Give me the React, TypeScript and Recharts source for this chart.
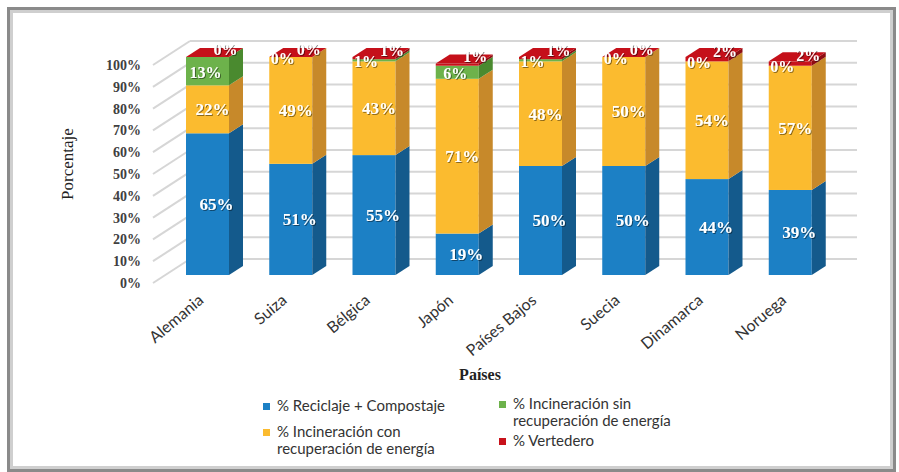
import React from 'react';
import { BarChart, Bar, XAxis, YAxis, CartesianGrid, LabelList, Legend } from 'recharts';

const countries = ['Alemania', 'Suiza', 'Bélgica', 'Japón', 'Países Bajos', 'Suecia', 'Dinamarca', 'Noruega'];
const reciclaje = [65, 51, 55, 19, 50, 50, 44, 39];
const incConRec = [22, 49, 43, 71, 48, 50, 54, 57];
const incSinRec = [13, 0, 1, 6, 1, 0, 0, 0];
const vertedero = [0, 0, 1, 1, 1, 0, 2, 2];
const yTicks = [0, 10, 20, 30, 40, 50, 60, 70, 80, 90, 100];
const seriesNames = [
  '% Reciclaje + Compostaje',
  '% Incineración con recuperación de energía',
  '% Incineración sin recuperación de energía',
  '% Vertedero',
];
const legendLines = [
  ['% Reciclaje + Compostaje'],
  ['% Incineración con', 'recuperación de energía'],
  ['% Incineración sin', 'recuperación de energía'],
  ['% Vertedero'],
];

const data = countries.map((c, i) => ({
  pais: c,
  rec: reciclaje[i],
  con: incConRec[i],
  sin: incSinRec[i],
  ver: vertedero[i],
}));

const COLORS = {
  rec: { front: '#1c80c5', side: '#145a8c' },
  con: { front: '#fbbb2f', side: '#c7892a' },
  sin: { front: '#6db24b', side: '#4a8a2f' },
  ver: { front: '#c8121b', side: '#8e0d12', top: '#c5101a' },
};

const DX = 14;
const DY = 9;

function make3D(front: string, side: string, top?: string) {
  return (p: any) => {
    const { x, y, width: w } = p;
    if (x == null || y == null) return null;
    const h = Math.max(p.height || 0, 0);
    return (
      <g>
        <rect x={x} y={y} width={w} height={h} fill={front} />
        <polygon
          points={`${x + w},${y} ${x + w + DX},${y - DY} ${x + w + DX},${y + h - DY} ${x + w},${y + h}`}
          fill={side}
        />
        {top ? (
          <polygon points={`${x},${y} ${x + DX},${y - DY} ${x + w + DX},${y - DY} ${x + w},${y}`} fill={top} />
        ) : null}
      </g>
    );
  };
}

function makeLabel(dxFn: (v: number) => number, dy: number, size = 17) {
  return (p: any) => {
    const { x, y, width, height, value } = p;
    if (x == null) return null;
    const cx = x + width / 2 + dxFn(value);
    const cy = y + (height || 0) / 2 + dy;
    return (
      <text
        x={cx}
        y={cy}
        dy="0.35em"
        textAnchor="middle"
        fill="#ffffff"
        fontFamily="'Liberation Serif', 'DejaVu Serif', serif"
        fontWeight="bold"
        fontSize={size}
        filter="url(#txtShadow)"
      >
        {`${value}%`}
      </text>
    );
  };
}

const YTick = (p: any) => {
  const { x, y, payload } = p;
  return (
    <text
      x={x}
      y={y + 8}
      dy="0.35em"
      textAnchor="end"
      fill="#404040"
      fontFamily="'Liberation Serif', serif"
      fontWeight="bold"
      fontSize={14}
    >
      {`${payload.value}%`}
    </text>
  );
};

const XTick = (p: any) => {
  const { x, y, payload } = p;
  const tx = x - 3;
  const ty = y + 27;
  return (
    <text
      x={tx}
      y={ty}
      textAnchor="end"
      transform={`rotate(-40 ${tx} ${ty})`}
      fill="#333333"
      fontFamily="Lato, 'Open Sans', sans-serif"
      fontSize={16}
    >
      {payload.value}
    </text>
  );
};

const gridLine = (p: any) => {
  const { x1, x2, y1, index } = p;
  return (
    <g key={`gl-${index}`}>
      <line x1={x1 - 13} y1={y1 + 8} x2={x1 + 24} y2={y1 - 16} stroke="#d6d6d6" strokeWidth={2} />
      <line x1={x1 + 24} y1={y1 - 16} x2={x2 + 25} y2={y1 - 16} stroke="#d6d6d6" strokeWidth={2} />
    </g>
  );
};

const YTitle = (p: any) => {
  const vb = p.viewBox || {};
  const cx = vb.x - 39;
  const cy = vb.y + vb.height / 2 - 2;
  return (
    <text
      x={cx}
      y={cy}
      textAnchor="middle"
      dy="0.35em"
      transform={`rotate(-90 ${cx} ${cy})`}
      fill="#222"
      fontFamily="'Liberation Serif', serif"
      fontSize={17}
    >
      Porcentaje
    </text>
  );
};

const XTitle = (p: any) => {
  const vb = p.viewBox || {};
  const cx = vb.x + vb.width / 2 - 19;
  const cy = vb.y + 99;
  return (
    <text x={cx} y={cy} dy="0.35em" textAnchor="middle" fill="#222" fontFamily="'Liberation Serif', serif" fontWeight="bold" fontSize={16}>
      Países
    </text>
  );
};

const legendColors = [COLORS.rec.front, COLORS.con.front, COLORS.sin.front, COLORS.ver.front];

const LegendContent = () => {
  const item = (i: number, left: number, top: number) => (
    <div key={i} style={{ position: 'absolute', left, top, display: 'flex', alignItems: 'flex-start' }}>
      <div style={{ width: 7, height: 7, background: legendColors[i], marginTop: 6, marginRight: 7 }} />
      <div style={{ fontFamily: 'Lato, "Open Sans", sans-serif', fontSize: 15, lineHeight: '17px', color: '#333' }}>
        {legendLines[i].map((l, k) => (
          <div key={k} style={{ whiteSpace: 'nowrap' }}>{l}</div>
        ))}
      </div>
    </div>
  );
  return (
    <div style={{ position: 'relative', width: 460, height: 70 }} title={seriesNames.join(' | ')}>
      {item(0, 13, 0)}
      {item(1, 13, 26)}
      {item(2, 249, -2)}
      {item(3, 249, 35)}
    </div>
  );
};

export default function App() {
  return (
    <div style={{ position: 'absolute', left: 0, top: 0, width: 899, height: 472, background: '#ffffff', overflow: 'hidden' }}>
      <div
        style={{
          position: 'absolute',
          left: 7,
          top: 7,
          width: 889,
          height: 465,
          boxSizing: 'border-box',
          border: '3px solid #8a8a8a',
          boxShadow: 'inset 0 0 0 3px #cfcfcf',
        }}
      />
      <div style={{ position: 'absolute', left: 0, top: 0 }}>
        <BarChart width={899} height={472} data={data} margin={{ top: 57, right: 67, bottom: 97, left: 106 }} barSize={43}>
          <defs>
            <filter id="txtShadow" x="-20%" y="-20%" width="140%" height="140%">
              <feDropShadow dx="1" dy="1" stdDeviation="0.7" floodColor="#000000" floodOpacity="0.45" />
            </filter>
          </defs>
          <CartesianGrid vertical={false} horizontal={gridLine} />
          <XAxis
            dataKey="pais"
            tick={<XTick />}
            tickLine={false}
            axisLine={false}
            tickSize={0}
            tickMargin={0}
            height={100}
            interval={0}
            label={<XTitle />}
          />
          <YAxis
            domain={[0, 100]}
            ticks={yTicks}
            tick={<YTick />}
            tickLine={false}
            axisLine={false}
            tickSize={0}
            tickMargin={25}
            width={60}
            interval={0}
            label={<YTitle />}
          />
          <Bar dataKey="rec" name={seriesNames[0]} stackId="a" isAnimationActive={false} shape={make3D(COLORS.rec.front, COLORS.rec.side)}>
            <LabelList dataKey="rec" content={makeLabel(() => 9, 0)} />
          </Bar>
          <Bar dataKey="con" name={seriesNames[1]} stackId="a" isAnimationActive={false} shape={make3D(COLORS.con.front, COLORS.con.side)}>
            <LabelList dataKey="con" content={makeLabel(() => 5, 0)} />
          </Bar>
          <Bar dataKey="sin" name={seriesNames[2]} stackId="a" isAnimationActive={false} shape={make3D(COLORS.sin.front, COLORS.sin.side)}>
            <LabelList dataKey="sin" content={makeLabel((v) => (v < 3 ? -8 : -2), 1, 16)} />
          </Bar>
          <Bar dataKey="ver" name={seriesNames[3]} stackId="a" isAnimationActive={false} shape={make3D(COLORS.ver.front, COLORS.ver.side, COLORS.ver.top)}>
            <LabelList dataKey="ver" content={makeLabel(() => 18, -8, 16)} />
          </Bar>
          <Legend
            layout="vertical"
            align="center"
            verticalAlign="middle"
            wrapperStyle={{ left: 250, top: 397, width: 460, height: 70 }}
            content={<LegendContent />}
          />
        </BarChart>
      </div>
    </div>
  );
}
